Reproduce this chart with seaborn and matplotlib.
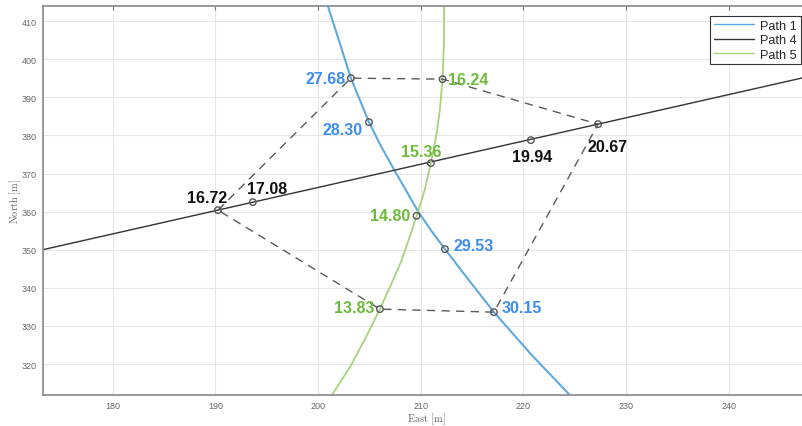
import numpy as np
import pandas as pd
import seaborn as sns
import matplotlib.pyplot as plt

# path traces, East / North in metres
path1_east = [200.96, 202.06, 203.20, 204.96, 206.13, 207.49, 209.73,
              210.99, 212.36, 214.69, 217.13, 220.73, 224.53]
path1_north = [413.94, 404.75, 395.04, 383.49, 377.19, 370.63, 360.13,
               355.14, 350.16, 342.02, 333.62, 322.60, 311.84]
path4_east = [170.0, 250.0]
path4_north = [348.06, 396.82]
path5_east = [201.35, 203.11, 204.57, 206.03, 207.39, 208.07, 208.85, 209.73,
              210.41, 210.99, 211.58, 211.87, 212.13, 212.26, 212.29]
path5_north = [311.84, 319.19, 326.54, 334.41, 342.55, 346.75, 352.78, 359.87,
               365.91, 372.73, 380.87, 386.90, 394.78, 403.96, 413.94]

# marked points on the paths
pt_label = ['27.68', '16.24', '28.30', '20.67', '19.94', '15.36',
            '17.08', '16.72', '14.80', '29.53', '13.83', '30.15']
pt_east = [203.20, 212.13, 204.96, 227.28, 220.73, 210.99,
           193.65, 190.25, 209.60, 212.36, 206.03, 217.13]
pt_north = [395.04, 394.78, 383.49, 382.97, 378.77, 372.73,
            362.49, 360.40, 358.90, 350.16, 334.41, 333.62]
pt_path = ['Path 1', 'Path 5', 'Path 1', 'Path 4', 'Path 4', 'Path 5',
           'Path 4', 'Path 4', 'Path 5', 'Path 1', 'Path 5', 'Path 1']

# dashed outline through these points
outline = ['16.72', '27.68', '16.24', '20.67', '30.15', '13.83', '16.72']

line_col = {'Path 1': '#5eaade', 'Path 4': '#333333', 'Path 5': '#a6d37c'}
text_col = {'Path 1': '#3d8cf2', 'Path 4': '#111111', 'Path 5': '#6dbb3a'}

# label placement (pixels from the point) and alignment
offs = {'27.68': (-5, 0, 'right'), '16.24': (5, 0, 'left'),
        '28.30': (-6, -7, 'right'), '20.67': (9, -22, 'center'),
        '19.94': (1, -16, 'center'), '15.36': (-10, 12, 'center'),
        '17.08': (14, 14, 'center'), '16.72': (-11, 13, 'center'),
        '14.80': (-6, 0, 'right'), '29.53': (9, 4, 'left'),
        '13.83': (-6, 2, 'right'), '30.15': (8, 5, 'left')}

paths = pd.concat([
    pd.DataFrame({'East': path1_east, 'North': path1_north, 'path': 'Path 1'}),
    pd.DataFrame({'East': path4_east, 'North': path4_north, 'path': 'Path 4'}),
    pd.DataFrame({'East': path5_east, 'North': path5_north, 'path': 'Path 5'}),
], ignore_index=True)

pts = pd.DataFrame({'label': pt_label, 'East': pt_east, 'North': pt_north, 'path': pt_path})

sns.set_theme(style='whitegrid')
plt.rcParams['font.family'] = ['Liberation Sans', 'DejaVu Sans']
plt.rcParams['mathtext.fontset'] = 'cm'

fig = plt.figure(figsize=(8.03, 4.27), dpi=100)
ax = fig.add_axes([43.3 / 803, 31.5 / 427, (810 - 43.3) / 803, (395.5 - 7.3) / 427])

a = sns.lineplot(data=paths, x='East', y='North', hue='path', sort=False, estimator=None,
                 palette=line_col, ax=ax, legend=False)
for ln, lw in zip(ax.lines, [1.5, 1.0, 1.3]):
    ln.set_linewidth(lw)

hull = pts.set_index('label').loc[outline]
ax.plot(hull['East'], hull['North'], color='#5a5a5a', lw=1.0, ls=(0, (6, 4.5)), zorder=3)

ax.scatter(pts['East'], pts['North'], s=22, facecolors='none', edgecolors='#555555',
           linewidths=1.0, zorder=5)

for _, r in pts.iterrows():
    dx, dy, ha = offs[r['label']]
    ax.annotate(r['label'], (r['East'], r['North']), xytext=(dx, dy), textcoords='offset pixels',
                ha=ha, va='center', fontsize=11.5, fontweight='bold', color=text_col[r['path']],
                zorder=6)

ax.set_xlim(173.24, 247.92)
ax.set_ylim(312.0, 413.9)
ax.set_xticks(np.arange(180, 250, 10))
ax.set_yticks(np.arange(320, 420, 10))
ax.tick_params(direction='in', top=True, right=True, length=3, width=0.8, color='#777777',
               labelsize=6.5, labelcolor='#666666', pad=5)
ax.grid(True, color='#e6e6e6', lw=0.8)
for s in ax.spines.values():
    s.set_color('#888888')
    s.set_linewidth(1.2)
ax.set_facecolor('white')

ax.set_xlabel(r'$\mathrm{East\ [m]}$', fontsize=7.5, color='#666666', labelpad=0)
ax.set_ylabel(r'$\mathrm{North\ [m]}$', fontsize=7.5, color='#666666', labelpad=-1)

handles = [plt.Line2D([], [], color=line_col[k], lw=1.0) for k in ['Path 1', 'Path 4', 'Path 5']]
leg = ax.legend(handles, ['Path 1', 'Path 4', 'Path 5'], loc='upper right',
                bbox_to_anchor=(800.7 / 803, 1 - 16.7 / 427), bbox_transform=fig.transFigure,
                borderaxespad=0, fontsize=9.2, handlelength=3.1, handletextpad=0.5,
                labelspacing=0.2, borderpad=0.3, frameon=True, fancybox=False, framealpha=1)
leg.get_frame().set_edgecolor('#333333')
leg.get_frame().set_linewidth(0.8)

a.get_figure().savefig('out.png', dpi=100)
